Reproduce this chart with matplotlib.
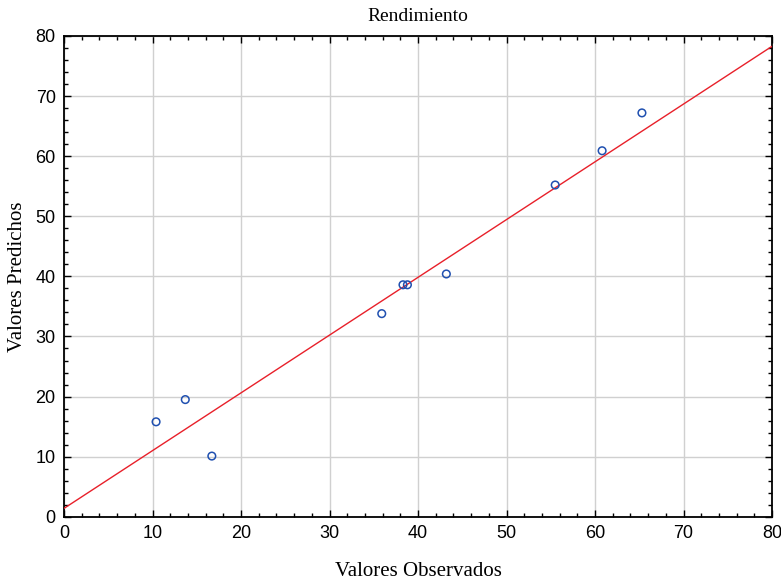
import numpy as np
import matplotlib.pyplot as plt
from matplotlib.ticker import MultipleLocator

# observed vs predicted values
observados = [10.4, 13.7, 16.7, 35.9, 38.3, 38.8, 43.2, 55.5, 60.8, 65.3]
predichos = [15.8, 19.5, 10.1, 33.8, 38.6, 38.6, 40.4, 55.2, 60.9, 67.2]

# fitted line
intercepto = 1.4
pendiente = 0.961
x_linea = [0, 80]

fig = plt.figure(figsize=(7.81, 5.80), dpi=100)
ax = fig.add_axes([0.082, 0.109, 0.9065, 0.829])

ax.plot(x_linea, [intercepto + pendiente * v for v in x_linea], color='#e8202a', lw=1.0, zorder=3)
ax.scatter(observados, predichos, s=30, facecolors='none', edgecolors='#2050b0', linewidths=1.1, zorder=4)

ax.set_xlim(0, 80)
ax.set_ylim(0, 80)
ax.xaxis.set_major_locator(MultipleLocator(10))
ax.yaxis.set_major_locator(MultipleLocator(10))
ax.xaxis.set_minor_locator(MultipleLocator(2))
ax.yaxis.set_minor_locator(MultipleLocator(2))
ax.grid(True, which='major', color='#d0d0d0', lw=1.0)
ax.set_axisbelow(True)

ax.tick_params(which='both', direction='in', top=True, right=True, colors='black')
ax.tick_params(which='major', length=5, width=1)
ax.tick_params(which='minor', length=3, width=1)
for lab in ax.get_xticklabels() + ax.get_yticklabels():
    lab.set_family(['Liberation Sans', 'DejaVu Sans'])
    lab.set_fontsize(13)
ax.tick_params(axis='x', pad=6)
ax.tick_params(axis='y', pad=6)

for s in ax.spines.values():
    s.set_linewidth(1.3)

serif = ['Liberation Serif', 'DejaVu Serif']
ax.set_title('Rendimiento', family=serif, fontsize=14, pad=11)
ax.set_xlabel('Valores Observados', family=serif, fontsize=15, labelpad=14)
ax.set_ylabel('Valores Predichos', family=serif, fontsize=15, labelpad=6)

fig.savefig('out.png', dpi=100)
